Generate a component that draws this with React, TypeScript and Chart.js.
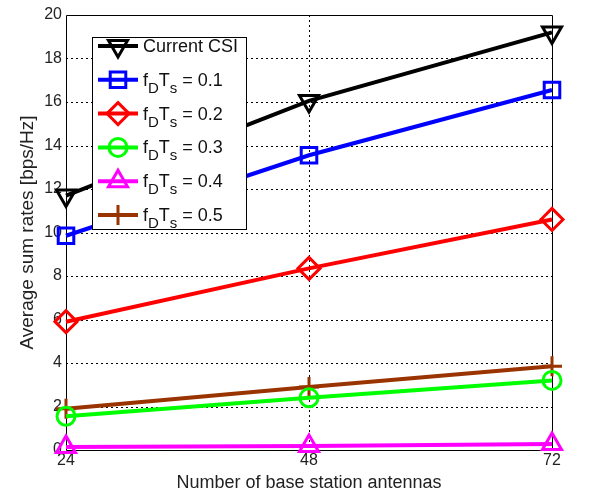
import React, { useEffect, useRef } from 'react';
import { Chart, registerables } from 'chart.js';

Chart.register(...registerables);

const antennas = [24, 48, 72];
const currentCSI = [11.7, 16.05, 19.2];
const fdts01 = [9.85, 13.55, 16.55];
const fdts02 = [5.9, 8.35, 10.6];
const fdts03 = [1.55, 2.4, 3.2];
const fdts04 = [0.14, 0.18, 0.28];
const fdts05 = [1.9, 2.9, 3.85];
const yTicks = [0, 2, 4, 6, 8, 10, 12, 14, 16, 18, 20];
const xTicks = [24, 48, 72];
const seriesNames = ['Current CSI', '0.1', '0.2', '0.3', '0.4', '0.5'];
const xTitle = 'Number of base station antennas';
const yTitle = 'Average sum rates [bps/Hz]';

const FONT = "'Liberation Sans', Arial, Helvetica, sans-serif";

type Style = { color: string; shape: string; r: number; rot: number };
const styles: Style[] = [
  { color: '#000000', shape: 'triangle', r: 11, rot: 180 },
  { color: '#0000ff', shape: 'rect', r: 11, rot: 0 },
  { color: '#ff0000', shape: 'rectRot', r: 11, rot: 0 },
  { color: '#00ff00', shape: 'circle', r: 9, rot: 0 },
  { color: '#ff00ff', shape: 'triangle', r: 11, rot: 0 },
  { color: '#993300', shape: 'cross', r: 10, rot: 0 },
];

function drawMarker(ctx: CanvasRenderingContext2D, s: Style, x: number, y: number) {
  ctx.save();
  ctx.strokeStyle = s.color;
  ctx.lineWidth = 3;
  ctx.translate(x, y);
  ctx.rotate((s.rot * Math.PI) / 180);
  ctx.beginPath();
  const r = s.r;
  if (s.shape === 'triangle') {
    for (let i = 0; i < 3; i++) {
      const a = (i * 2 * Math.PI) / 3;
      const px = Math.sin(a) * r;
      const py = -Math.cos(a) * r;
      if (i === 0) ctx.moveTo(px, py);
      else ctx.lineTo(px, py);
    }
    ctx.closePath();
  } else if (s.shape === 'rect') {
    const h = r * Math.SQRT1_2;
    ctx.rect(-h, -h, 2 * h, 2 * h);
  } else if (s.shape === 'rectRot') {
    ctx.moveTo(0, -r);
    ctx.lineTo(r, 0);
    ctx.lineTo(0, r);
    ctx.lineTo(-r, 0);
    ctx.closePath();
  } else if (s.shape === 'circle') {
    ctx.arc(0, 0, r, 0, Math.PI * 2);
  } else if (s.shape === 'cross') {
    ctx.moveTo(0, -r);
    ctx.lineTo(0, r);
    ctx.moveTo(-r, 0);
    ctx.lineTo(r, 0);
  }
  ctx.stroke();
  ctx.restore();
}

const framePlugin = {
  id: 'frame',
  beforeDatasetsDraw(chart: any) {
    const { ctx, chartArea: a } = chart;
    const xs = chart.scales.x;
    const ys = chart.scales.y;
    ctx.save();
    ctx.strokeStyle = '#000';
    ctx.lineWidth = 1;
    ctx.setLineDash([2, 3]);
    for (let k = 1; k < yTicks.length - 1; k++) {
      const py = Math.round(ys.getPixelForValue(yTicks[k])) + 0.5;
      ctx.beginPath();
      ctx.moveTo(a.left, py);
      ctx.lineTo(a.right, py);
      ctx.stroke();
    }
    for (let k = 1; k < xTicks.length - 1; k++) {
      const px = Math.round(xs.getPixelForValue(xTicks[k])) + 0.5;
      ctx.beginPath();
      ctx.moveTo(px, a.top);
      ctx.lineTo(px, a.bottom);
      ctx.stroke();
    }
    ctx.setLineDash([]);
    ctx.beginPath();
    const L = Math.round(a.left) + 0.5, R = Math.round(a.right) + 0.5;
    const T = Math.round(a.top) + 0.5, B = Math.round(a.bottom) + 0.5;
    ctx.rect(L, T, R - L, B - T);
    ctx.stroke();
    ctx.restore();
  },
};

const legendPlugin = {
  id: 'matlabLegend',
  afterDatasetsDraw(chart: any) {
    const { ctx } = chart;
    const bx = 92, by = 37, bw = 154, bh = 192;
    ctx.save();
    ctx.setLineDash([]);
    ctx.fillStyle = '#fff';
    ctx.fillRect(bx, by, bw, bh);
    ctx.strokeStyle = '#000';
    ctx.lineWidth = 1;
    ctx.strokeRect(bx + 0.5, by + 0.5, bw, bh);
    const y0 = 46;
    const dy = 33.8;
    for (let i = 0; i < seriesNames.length; i++) {
      const y = y0 + dy * i;
      const s = styles[i];
      ctx.strokeStyle = s.color;
      ctx.lineWidth = 4;
      ctx.beginPath();
      ctx.moveTo(98, y);
      ctx.lineTo(138, y);
      ctx.stroke();
      drawMarker(ctx, s, 118, y);
      ctx.fillStyle = '#111';
      ctx.textBaseline = 'alphabetic';
      ctx.textAlign = 'left';
      const base = y + 6;
      if (i === 0) {
        ctx.font = `18px ${FONT}`;
        ctx.fillText(seriesNames[i], 143, base);
      } else {
        let x = 143;
        ctx.font = `18px ${FONT}`;
        ctx.fillText('f', x, base);
        x += ctx.measureText('f').width;
        ctx.font = `15px ${FONT}`;
        ctx.fillText('D', x, base + 7);
        x += ctx.measureText('D').width;
        ctx.font = `18px ${FONT}`;
        ctx.fillText('T', x, base);
        x += ctx.measureText('T').width;
        ctx.font = `15px ${FONT}`;
        ctx.fillText('s', x, base + 7);
        x += ctx.measureText('s').width;
        ctx.font = `18px ${FONT}`;
        ctx.fillText(' = ' + seriesNames[i], x, base);
      }
    }
    ctx.restore();
  },
};

const seriesData = [currentCSI, fdts01, fdts02, fdts03, fdts04, fdts05];

export default function App() {
  const ref = useRef<HTMLCanvasElement | null>(null);
  useEffect(() => {
    if (!ref.current) return;
    const chart = new Chart(ref.current, {
      type: 'line',
      data: {
        datasets: seriesData.map((vals, i) => ({
          label: seriesNames[i],
          data: antennas.map((x, j) => ({ x, y: vals[j] })),
          borderColor: styles[i].color,
          backgroundColor: 'rgba(0,0,0,0)',
          borderWidth: 4,
          pointStyle: styles[i].shape as any,
          pointRotation: styles[i].rot,
          pointRadius: styles[i].r,
          pointBorderWidth: 3,
          pointBorderColor: styles[i].color,
          pointBackgroundColor: 'rgba(0,0,0,0)',
          tension: 0,
          clip: false as any,
        })),
      },
      options: {
        animation: false,
        responsive: false,
        layout: { padding: { left: 0, top: 15, right: 37, bottom: 0 } },
        plugins: { legend: { display: false }, tooltip: { enabled: false } },
        scales: {
          x: {
            type: 'linear',
            min: 24,
            max: 72,
            afterBuildTicks: (scale: any) => {
              scale.ticks = xTicks.map((v) => ({ value: v }));
            },
            afterFit: (scale: any) => {
              scale.height = 47;
            },
            ticks: { color: '#222', font: { family: FONT, size: 16 }, padding: 1, maxRotation: 0 },
            grid: { display: false, drawTicks: false },
            border: { display: false },
            title: { display: true, text: xTitle, color: '#222', font: { family: FONT, size: 18 }, padding: { top: 0, bottom: 3 } },
          },
          y: {
            type: 'linear',
            min: 0,
            max: 20,
            afterBuildTicks: (scale: any) => {
              scale.ticks = yTicks.map((v) => ({ value: v }));
            },
            afterFit: (scale: any) => {
              scale.width = 66;
            },
            ticks: { color: '#222', font: { family: FONT, size: 16 }, padding: 4 },
            grid: { display: false, drawTicks: false },
            border: { display: false },
            title: { display: true, text: yTitle, color: '#222', font: { family: FONT, size: 19 }, padding: { top: 16, bottom: 0 } },
          },
        },
      },
      plugins: [framePlugin, legendPlugin],
    });
    return () => chart.destroy();
  }, []);
  return (
    <div style={{ position: 'absolute', left: 0, top: 0, width: 589, height: 497, background: '#fff' }}>
      <canvas ref={ref} width={589} height={497} style={{ display: 'block' }} />
    </div>
  );
}
